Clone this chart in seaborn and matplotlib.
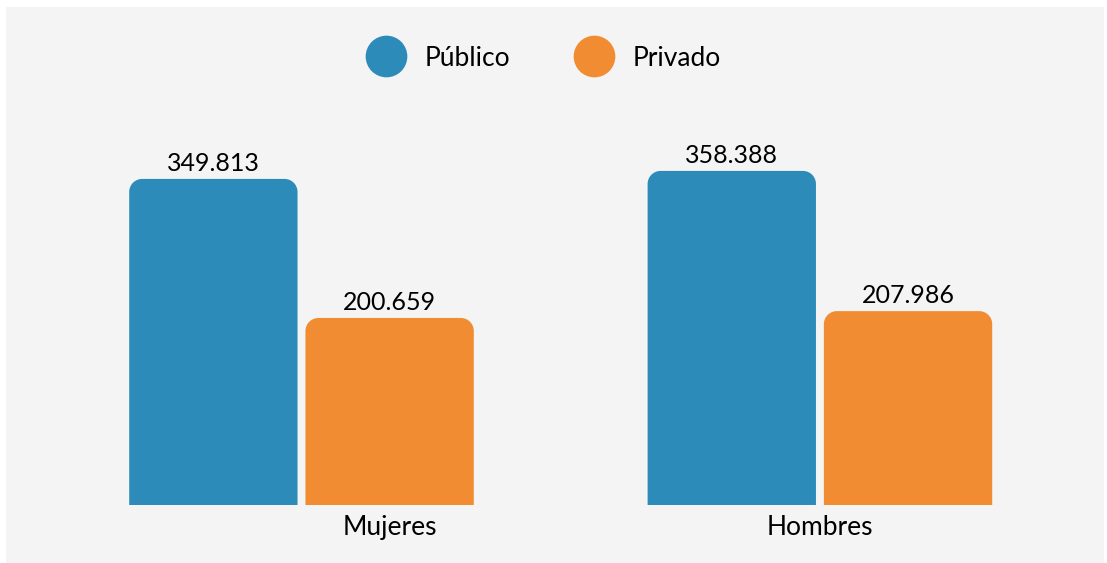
import numpy as np
import pandas as pd
import seaborn as sns
import matplotlib.pyplot as plt
from matplotlib.path import Path
from matplotlib.patches import PathPatch, Rectangle
from matplotlib.lines import Line2D

# datos
sexos = ["Mujeres", "Hombres"]
sectores = ["Público", "Privado"]
publico = [349813, 358388]
privado = [200659, 207986]

colores = ["#2D8BB9", "#F28C32"]
fondo = "#F3F4F3"

df = pd.DataFrame({
    "sexo": sexos * 2,
    "sector": [sectores[0]] * 2 + [sectores[1]] * 2,
    "personas": publico + privado,
})

sns.set_theme(style="white")
plt.rcParams['font.family'] = ['Lato', 'DejaVu Sans']
plt.rcParams['text.color'] = "black"

W, H = 1107, 563
fig = plt.figure(figsize=(W / 100, H / 100), dpi=100, facecolor="white")
# panel gris de fondo
fig.patches.append(Rectangle((6 / W, 0), 1098 / W, 556 / H, transform=fig.transFigure,
                             facecolor=fondo, edgecolor="none", zorder=-10))

ax = fig.add_axes([6 / W, 58 / H, 1098 / W, 415 / H])
ax.set_facecolor("none")
ax.set_zorder(1)

sns.barplot(data=df, x="sexo", y="personas", hue="sector", palette=colores,
            width=0.68, gap=0.045, saturation=1, legend=False, ax=ax)

ax.set_xlim(-0.570, 1.548)
ax.set_ylim(0, 445200)
sns.despine(ax=ax, left=True, bottom=True)
ax.set_yticks([])
ax.set_xlabel("")
ax.set_ylabel("")

# etiquetas de valor
for c in ax.containers:
    ax.bar_label(c, labels=[f"{int(v):,}".replace(",", ".") for v in c.datavalues],
                 padding=3, fontsize=18, color="black")


def rounded_top(x0, x1, y0, y1, rx, ry):
    k = 0.5523
    verts = [(x0, y0), (x0, y1 - ry),
             (x0, y1 - ry + k * ry), (x0 + rx - k * rx, y1), (x0 + rx, y1),
             (x1 - rx, y1),
             (x1 - rx + k * rx, y1), (x1, y1 - ry + k * ry), (x1, y1 - ry),
             (x1, y0), (x0, y0)]
    codes = [Path.MOVETO, Path.LINETO,
             Path.CURVE4, Path.CURVE4, Path.CURVE4,
             Path.LINETO,
             Path.CURVE4, Path.CURVE4, Path.CURVE4,
             Path.LINETO, Path.CLOSEPOLY]
    return Path(verts, codes)


# barras con esquinas superiores redondeadas
inv = ax.transData.inverted()
p0 = inv.transform((0, 0))
p1 = inv.transform((13, 13))
rx, ry = p1 - p0
barras = list(ax.patches)
for b in barras:
    x0, y0 = b.get_x(), b.get_y()
    x1, y1 = x0 + b.get_width(), y0 + b.get_height()
    ax.add_patch(PathPatch(rounded_top(x0, x1, y0, y1, rx, ry),
                           facecolor=b.get_facecolor(), edgecolor="none"))
    b.set_visible(False)

# "Mujeres" va centrado bajo la barra de Privado, "Hombres" bajo el grupo
b_muj_priv = barras[2]
ax.set_xticks([b_muj_priv.get_x() + b_muj_priv.get_width() / 2, 1])
ax.set_xticklabels(sexos, fontsize=19, color="black")
ax.tick_params(axis="x", length=0, pad=7)

# leyenda
handles = [Line2D([], [], marker="o", linestyle="none", markersize=30,
                  markerfacecolor=c, markeredgecolor="none") for c in colores]
fig.legend(handles, sectores, loc="center", bbox_to_anchor=(543 / W, 1 - 58 / H),
           ncol=2, frameon=False, fontsize=19, handlelength=1.59,
           handletextpad=0.68, columnspacing=2.35)

fig.savefig("out.png", dpi=100, facecolor="white")
